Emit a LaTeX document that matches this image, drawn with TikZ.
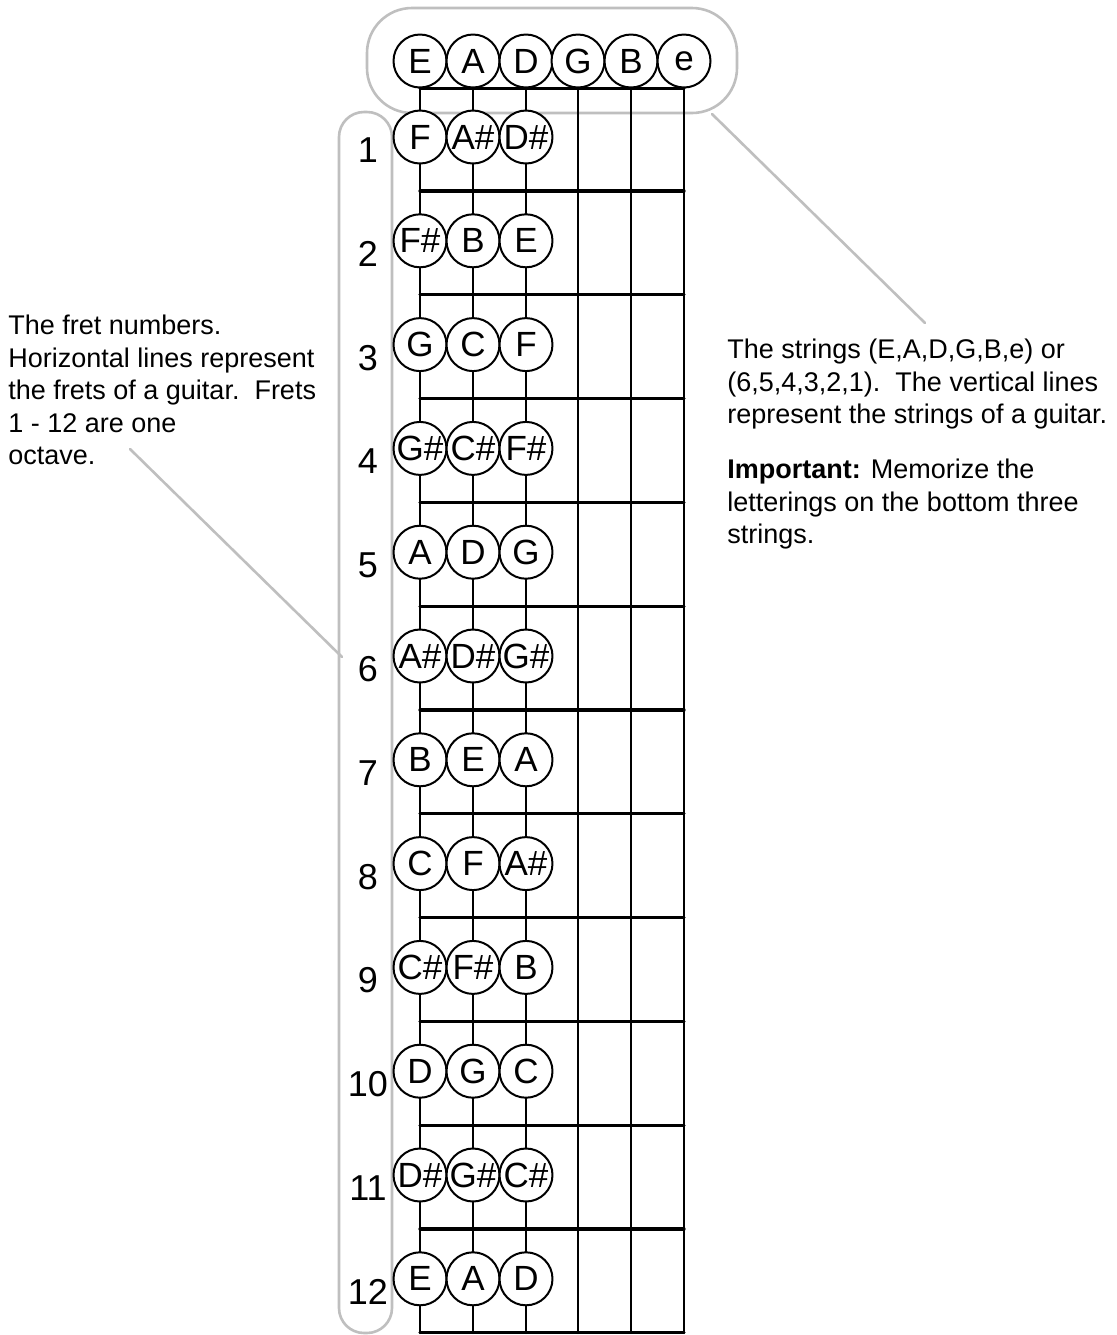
\documentclass[tikz,border=0pt]{standalone}
\usepackage{fontspec}
\setmainfont{Liberation Sans}
\begin{document}
\begin{tikzpicture}[x=0.5pt, y=-0.5pt, line join=round, line cap=round,
    note/.style={circle, draw, line width=1pt, fill=white, minimum size=26.5pt,
      inner sep=0pt, font=\fontsize{17.5}{17.5}\selectfont},
    fretno/.style={inner sep=0pt, font=\fontsize{18}{18}\selectfont},
    hint/.style={draw=gray!50, line width=1.3pt},
    infotext/.style={anchor=north west, inner sep=0pt, align=left,
      font=\fontsize{13.5}{16.25}\selectfont}]
  % Page
  \fill[white] (0,0) rectangle (1117,1335);
  \useasboundingbox (0,0) rectangle (1117,1335);

  % Grey frames
  \draw[hint, rounded corners=22.5pt] (367,8) rectangle (737,113);
  \draw[hint, rounded corners=12.5pt] (339,112) rectangle (392,1333);

  % Open strings
  \foreach \sx/\sl [count=\i] in {420/E,473/A,526/D,578/G,631/B,684/e} {
    \node[note] (s\i) at (\sx,61) {\sl};
    \coordinate (b\i) at (\sx,1333);
  }

  % Strings
  \foreach \i in {1,...,6}
    \draw[line width=1.2pt] (s\i) -- (b\i);

  % Nut
  \draw[line width=1.6pt] (s1.south) -- (s6.south);

  % Frets
  \foreach \k in {0,...,11}
    \draw[line width=1.6pt] (420,191+103.8*\k) -- (684,191+103.8*\k);

  % Notes on the bottom three strings
  \foreach \n/\na/\nb/\nc in {1/F/A\#/D\#, 2/F\#/B/E, 3/G/C/F, 4/G\#/C\#/F\#,
      5/A/D/G, 6/A\#/D\#/G\#, 7/B/E/A, 8/C/F/A\#, 9/C\#/F\#/B,
      10/D/G/C, 11/D\#/G\#/C\#, 12/E/A/D} {
    \pgfmathsetmacro\fy{137+103.8*(\n-1)}
    \node[note] (f\n-1) at (420,\fy) {\na};
    \node[note] (f\n-2) at (473,\fy) {\nb};
    \node[note] (f\n-3) at (526,\fy) {\nc};
    \node[fretno] (n\n) at (368,\fy+13) {\n};
  }

  % Explanations
  \node[infotext] (frettext) at (8,315) {The fret numbers.\\
    Horizontal lines represent\\
    the frets of a guitar.\ \ Frets\\
    1 - 12 are one\\
    octave.};
  \node[infotext] (stringtext) at (727,339) {The strings (E,A,D,G,B,e) or\\
    (6,5,4,3,2,1).\ \ The vertical lines\\
    represent the strings of a guitar.};
  \node[infotext] (importtext) at (727,459) {\textbf{Important:} Memorize the\\
    letterings on the bottom three\\
    strings.};

  % Pointers
  \coordinate (pl1) at (130,449);
  \coordinate (pl2) at (342,657);
  \coordinate (pr1) at (712,114);
  \coordinate (pr2) at (925,323);
  \draw[hint] (pl1) -- (pl2);
  \draw[hint] (pr1) -- (pr2);
\end{tikzpicture}
\end{document}
